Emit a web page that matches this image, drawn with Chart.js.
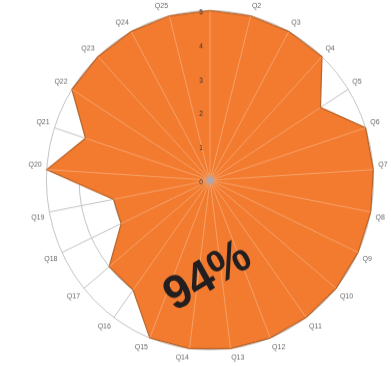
<!DOCTYPE html>
<html>
<head>
<meta charset="utf-8">
<script src="https://cdn.jsdelivr.net/npm/chart.js@4.4.0/dist/chart.umd.min.js"></script>
<style>
  html, body { margin: 0; padding: 0; background: #fff; overflow: hidden; }
  #wrap { position: relative; width: 391px; height: 366px; overflow: hidden; }
  /* the radar is larger than the frame so Q1's label sits just above the top edge,
     and it is drawn a little taller than wide */
  #chart { position: absolute; left: 26px; top: -21px; }
</style>
</head>
<body>
<div id="wrap"><canvas id="chart" width="365" height="377" style="width:365px;height:391px"></canvas></div>
<script>
  // Questions around the radar, Q1 at the top going clockwise
  const questions = [
    "Q1", "Q2", "Q3", "Q4", "Q5", "Q6", "Q7", "Q8", "Q9", "Q10",
    "Q11", "Q12", "Q13", "Q14", "Q15", "Q16", "Q17", "Q18", "Q19", "Q20",
    "Q21", "Q22", "Q23", "Q24", "Q25",
  ];

  // Score per question on a 0-5 scale
  const scores = [
    5, 5, 5, 5, 4, 5, 5, 5, 5, 5,
    5, 5, 5, 5, 5, 4, 4, 3, 3, 5,
    4, 5, 5, 5, 5,
  ];

  // Values printed up the vertical axis
  const tickLabels = ["0", "1", "2", "3", "4", "5"];
  const maxScore = 5;

  // Overall result as a share of the maximum possible score
  const total = scores.reduce((sum, v) => sum + v, 0);
  const percent = Math.round((total / (scores.length * maxScore)) * 100);

  const fillColor = "#f27b2f";

  // Spokes over the fill, tick numbers, centre dot and the big percentage
  const overlayPlugin = {
    id: "overlay",
    afterDatasetsDraw(chart) {
      const scale = chart.scales.r;
      const ctx = chart.ctx;
      ctx.save();
      ctx.strokeStyle = "rgba(255, 232, 210, 0.35)";
      ctx.lineWidth = 1;
      questions.forEach((q, i) => {
        const p = scale.getPointPositionForValue(i, scores[i]);
        ctx.beginPath();
        ctx.moveTo(scale.xCenter, scale.yCenter);
        ctx.lineTo(p.x, p.y);
        ctx.stroke();
      });
      ctx.restore();
    },
    afterDraw(chart) {
      const scale = chart.scales.r;
      const ctx = chart.ctx;
      const cx = scale.xCenter;
      const cy = scale.yCenter;

      ctx.save();
      // soft dot in the middle
      const g = ctx.createRadialGradient(cx, cy, 0, cx, cy, 6);
      g.addColorStop(0, "rgba(140, 160, 190, 0.95)");
      g.addColorStop(1, "rgba(140, 160, 190, 0)");
      ctx.fillStyle = g;
      ctx.beginPath();
      ctx.arc(cx, cy, 6, 0, Math.PI * 2);
      ctx.fill();

      // tick numbers, slightly left of the vertical spoke
      ctx.fillStyle = "#3a3030";
      ctx.font = "6.5px 'Liberation Sans', Arial, sans-serif";
      ctx.textAlign = "center";
      ctx.textBaseline = "middle";
      tickLabels.forEach((t) => {
        const d = scale.getDistanceFromCenterForValue(Number(t));
        ctx.fillText(t, cx - 9, cy - d + 2);
      });

      // big percentage across the lower half
      ctx.translate(cx - 2, cy + 93);
      ctx.rotate((-30 * Math.PI) / 180);
      ctx.fillStyle = "#231f20";
      ctx.font = "bold 46px 'Liberation Sans', Arial, sans-serif";
      ctx.fillText(percent + "%", 0, 0);
      ctx.restore();
    },
  };

  const ctx = document.getElementById("chart").getContext("2d");

  new Chart(ctx, {
    type: "radar",
    data: {
      labels: questions,
      datasets: [
        {
          label: "Score",
          data: scores,
          backgroundColor: fillColor,
          borderColor: "#b8652c",
          borderWidth: 1.2,
          pointRadius: 0,
          fill: true,
        },
      ],
    },
    options: {
      responsive: false,
      animation: false,
      plugins: {
        legend: { display: false },
        tooltip: { enabled: false },
      },
      scales: {
        r: {
          min: 0,
          max: maxScore,
          ticks: { stepSize: 1, display: false },
          grid: { circular: true, color: "#c4c4c4", lineWidth: 1 },
          angleLines: { color: "#c4c4c4", lineWidth: 1 },
          pointLabels: {
            color: "#6a6a6a",
            font: { size: 7, family: "'Liberation Sans', Arial, sans-serif" },
            padding: (c) => (c.index === 0 ? 16 : 5),
          },
        },
      },
    },
    plugins: [overlayPlugin],
  });
</script>
</body>
</html>
